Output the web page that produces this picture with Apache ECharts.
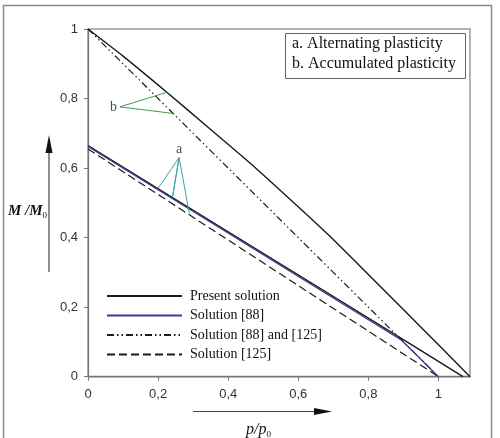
<!DOCTYPE html>
<html><head><meta charset="utf-8">
<script src="https://cdn.jsdelivr.net/npm/echarts@6/dist/echarts.min.js"></script>
<style>html,body{margin:0;padding:0;background:#fff}#c{width:500px;height:438px}</style>
</head><body><div id="c"></div>
<script>
// ---- data ----
const xTicks = [0, 0.2, 0.4, 0.6, 0.8, 1];
const yTicks = [0, 0.2, 0.4, 0.6, 0.8, 1];
const presentUpper = [[0,1],[0.1,0.922],[0.225,0.818],[0.35,0.711],[0.463,0.614],[0.606,0.483],[0.691,0.403],[0.8,0.294],[0.9,0.193],[1.0,0.092],[1.09,0]];
const presentLower = [[0,0.665],[0.909,0.101],[1.07,0]];
const sol88 = [[0,0.662],[0.895,0.105],[1.0,0]];
const sol88and125 = [[0,1],[1,0]];
const sol125 = [[0,0.655],[1,0]];
const annoB = [[0.225,0.818],[0.091,0.776],[0.244,0.757]];
const annoA = [[0.2,0.542],[0.26,0.63],[0.241,0.516],[0.26,0.63],[0.289,0.47]];
const annoLabels = ['a','b'];
const seriesNames = ['Present solution','Solution [88]','Solution [88] and [125]','Solution [125]'];
const boxLines = ['a. Alternating plasticity','b. Accumulated plasticity'];

const fmt = v => String(+v.toFixed(2)).replace('.', ',');
const serif = 'Liberation Serif';
const sans = 'Liberation Sans';

const chart = echarts.init(document.getElementById('c'), null, {renderer:'canvas'});
function lineSer(name, data, color, width, type, z, smooth) {
  return {name, type:'line', data, symbol:'none', silent:true, z:z||2, smooth:smooth||false,
    lineStyle:{color, width, type:type||'solid'}, itemStyle:{color}};
}
const apexA = annoA[1], apexB = annoB[1];
const lblStyle = {fontFamily:serif, fontSize:14, color:'#222'};
chart.setOption({
  animation:false,
  grid:{left:88, top:29, right:30, bottom:61.3, show:true, borderColor:'#9a9a9a', borderWidth:1.5, containLabel:false},
  xAxis:{type:'value', min:0, max:1.09, interval:0.2,
    axisLine:{lineStyle:{color:'#777', width:1.3}},
    axisTick:{show:true, length:4, lineStyle:{color:'#777'}, customValues:xTicks},
    axisLabel:{customValues:xTicks, formatter:fmt, margin:11, fontFamily:sans, fontSize:13, color:'#333'},
    splitLine:{show:false}},
  yAxis:{type:'value', min:0, max:1, interval:0.2,
    axisLine:{lineStyle:{color:'#777', width:1.3}},
    axisTick:{show:true, length:4, lineStyle:{color:'#777'}, customValues:yTicks},
    axisLabel:{customValues:yTicks, formatter:fmt, margin:10, fontFamily:sans, fontSize:13, color:'#333'},
    splitLine:{show:false}},
  legend:{data:seriesNames, orient:'vertical', left:106, top:289, padding:0, itemWidth:75, itemHeight:14, itemGap:5.5,
    selectedMode:false, itemStyle:{opacity:0},
    textStyle:{fontFamily:serif, fontSize:14, color:'#111', padding:[0,0,0,3]}},
  series:[
    lineSer('Present solution', presentUpper, '#1a1a1a', 1.4, 'solid', 3, 0.2),
    lineSer('Present solution', presentLower, '#1a1a1a', 1.4, 'solid', 3),
    lineSer('Solution [88]', sol88, '#3a3a92', 1.3, 'solid', 4),
    lineSer('Solution [88] and [125]', sol88and125, '#1a1a1a', 1.2, [7,3,1.5,3,1.5,3], 2),
    lineSer('Solution [125]', sol125, '#1a1a1a', 1.2, [8,4], 2),
    {name:'annoB', type:'line', symbol:'none', silent:true, z:5, data:annoB,
      lineStyle:{color:'#3a9e4a', width:1}, itemStyle:{color:'#3a9e4a'}},
    {name:'annoA', type:'line', symbol:'none', silent:true, z:5, data:annoA,
      lineStyle:{color:'#38a3a8', width:1}, itemStyle:{color:'#38a3a8'}},
    {name:'annoLabels', type:'scatter', symbol:'circle', symbolSize:0, silent:true, z:6, itemStyle:{color:'rgba(0,0,0,0)'},
      data:[
        {value:apexA, label:Object.assign({show:true, position:'top', distance:1, formatter:annoLabels[0]}, lblStyle)},
        {value:apexB, label:Object.assign({show:true, position:'left', distance:3, formatter:annoLabels[1]}, lblStyle)}
      ]}
  ],
  graphic:[
    {type:'rect', shape:{x:3.5, y:5.5, width:488, height:440}, style:{fill:null, stroke:'#8a8a8a', lineWidth:1.5}, silent:true},
    {type:'rect', shape:{x:285.5, y:33.5, width:180, height:45}, style:{fill:'#fff', stroke:'#666', lineWidth:1}, z:10},
    {type:'text', x:292, y:36, style:{text:boxLines[0], font:'16px "Liberation Serif"', fill:'#111'}, z:11},
    {type:'text', x:292, y:56, style:{text:boxLines[1], font:'16px "Liberation Serif"', fill:'#111'}, z:11},
    // y-axis arrow
    {type:'line', shape:{x1:49, y1:272, x2:49, y2:150}, style:{stroke:'#444', lineWidth:1.2}},
    {type:'polygon', shape:{points:[[49,135],[45.5,153],[52.5,153]]}, style:{fill:'#111'}},
    {type:'text', x:8, y:203, style:{text:'{i|M /M}{s|0}', rich:{i:{fontFamily:serif, fontStyle:'italic', fontWeight:'bold', fontSize:15, fill:'#111'}, s:{fontFamily:serif, fontSize:9, fill:'#111', padding:[8,0,0,0]}}}},
    // x-axis arrow
    {type:'line', shape:{x1:193, y1:411.5, x2:318, y2:411.5}, style:{stroke:'#444', lineWidth:1.2}},
    {type:'polygon', shape:{points:[[332,411.5],[314,408],[314,415]]}, style:{fill:'#111'}},
    {type:'text', x:246, y:421, style:{text:'{i|p/p}{s|0}', rich:{i:{fontFamily:serif, fontStyle:'italic', fontSize:16, fill:'#111'}, s:{fontFamily:serif, fontSize:9, fill:'#111', padding:[9,0,0,0]}}}}
  ]
});
</script></body></html>
